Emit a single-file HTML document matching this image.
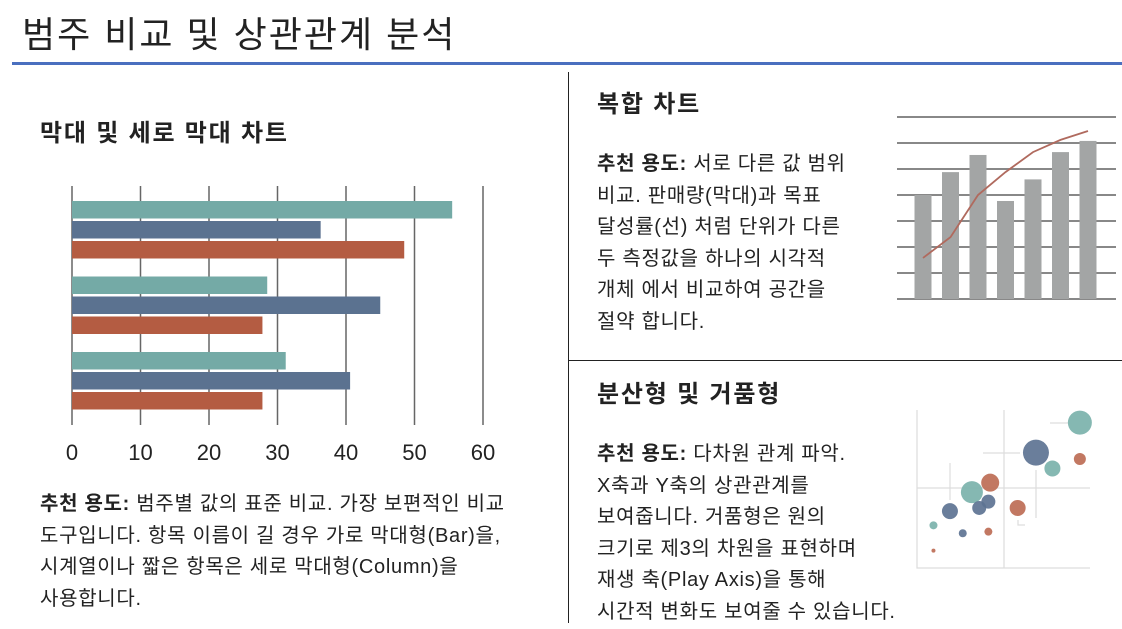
<!DOCTYPE html>
<html><head><meta charset="utf-8">
<style>
body{margin:0;width:1122px;height:623px;overflow:hidden;background:#fff;font-family:"Liberation Sans","Noto Sans CJK KR",sans-serif;color:#222;position:relative}
.abs{position:absolute;white-space:nowrap}
h1{position:absolute;left:22px;top:6px;margin:0;font-weight:normal;font-size:36px;letter-spacing:2px;color:#222}
h2{position:absolute;margin:0;font-size:24px;font-weight:bold;letter-spacing:1.8px}
.p{position:absolute;font-size:20px;letter-spacing:0.7px;line-height:31.6px;white-space:nowrap}
</style></head><body>
<h1>범주 비교 및 상관관계 분석</h1>
<div class="abs" style="left:12px;top:62px;width:1110px;height:3px;background:#4a6fbf"></div>
<div class="abs" style="left:568px;top:72px;width:1px;height:551px;background:#222"></div>
<div class="abs" style="left:568px;top:360px;width:554px;height:1px;background:#222"></div>

<h2 style="left:40px;top:113px">막대 및 세로 막대 차트</h2>
<svg id="bar" style="position:absolute;left:0;top:0" width="568" height="480"></svg>
<div class="p" style="left:40px;top:489px"><b>추천 용도:</b> 범주별 값의 표준 비교. 가장 보편적인 비교<br>도구입니다. 항목 이름이 길 경우 가로 막대형(Bar)을,<br>시계열이나 짧은 항목은 세로 막대형(Column)을<br>사용합니다.</div>

<h2 style="left:597px;top:84px">복합 차트</h2>
<div class="p" style="left:597px;top:149px"><b>추천 용도:</b> 서로 다른 값 범위<br>비교. 판매량(막대)과 목표<br>달성률(선) 처럼 단위가 다른<br>두 측정값을 하나의 시각적<br>개체 에서 비교하여 공간을<br>절약 합니다.</div>
<svg id="combo" style="position:absolute;left:880px;top:100px" width="242" height="210"></svg>

<h2 style="left:597px;top:374px">분산형 및 거품형</h2>
<div class="p" style="left:597px;top:439px"><b>추천 용도:</b> 다차원 관계 파악.<br>X축과 Y축의 상관관계를<br>보여줍니다. 거품형은 원의<br>크기로 제3의 차원을 표현하며<br>재생 축(Play Axis)을 통해<br>시간적 변화도 보여줄 수 있습니다.</div>
<svg id="bubble" style="position:absolute;left:900px;top:400px" width="222" height="175"></svg>

<script>
const NS="http://www.w3.org/2000/svg";
function mk(p,t,a){const e=document.createElementNS(NS,t);for(const k in a)e.setAttribute(k,a[k]);p.appendChild(e);return e;}
// ---- bar chart data
const barGroups=["A","B","C"];
const barSeriesTeal=[55.5,28.5,31.2];
const barSeriesBlue=[36.3,45,40.6];
const barSeriesRed=[48.5,27.8,27.8];
const barTicks=[0,10,20,30,40,50,60];
// ---- combo data
const comboCats=["1","2","3","4","5","6","7"];
const comboBars=[40,48.8,55.4,37.7,46,56.5,60.8];
const comboLine=[15.8,23.8,40,48.8,56.5,61.2,64.6];
// ---- bubble data
const bubbleX=[89,65,89,74,40,30,39,34,18,55,9,25,39,9];
const bubbleY=[92,73,69,63,54,48,42,38,36,38,27,22,23,11];
const bubbleR=[12,13,6,8,9,11,7,7,8,8,4,4,4,2];
const bubbleC=["t","b","r","t","r","t","b","b","b","r","t","b","r","r"];

(function(){
const s=document.getElementById('bar');
const x=v=>72+v*6.85;
barTicks.forEach(t=>{
 const l=mk(s,'line',{x1:x(t),x2:x(t),y1:186,y2:425,stroke:'#666','stroke-width':1.5});
 
 
 const tx=mk(s,'text',{x:x(t),y:460,'text-anchor':'middle','font-size':22,fill:'#222'});tx.textContent=t;
 
 
});
const series=[[barSeriesTeal,'#74aaa6',0],[barSeriesBlue,'#5b7290',20],[barSeriesRed,'#b45c42',40]];
barGroups.forEach((g,i)=>{
 series.forEach(([arr,c,off])=>{
  const r=mk(s,'rect',{x:x(0),y:201+i*75.5+off,width:x(arr[i])-x(0),height:17.5,fill:c});
  
  
 });
});
})();

(function(){
const s=document.getElementById('combo');
const base=199,y=v=>base-v*2.6;
for(let i=0;i<=7;i++){
 const l=mk(s,'line',{x1:17,x2:236,y1:y(i*10),y2:y(i*10),stroke:'#888','stroke-width':2});
 
 
}
const cx=i=>43+i*27.5;
comboBars.forEach((v,i)=>{
 const r=mk(s,'rect',{x:cx(i)-8.5,y:y(v),width:17,height:base-y(v),fill:'#a3a5a5'});
 
 
});
const p=mk(s,'polyline',{points:comboLine.map((v,i)=>cx(i)+','+y(v)).join(' '),fill:'none',stroke:'#b06a5e','stroke-width':1.8});


})();

(function(){
const s=document.getElementById('bubble');
const x=v=>17+v*1.83,y=v=>168-v*1.58;
[['M17,10V168H190'],['M104,10V168'],['M17,88H190'],['M50,63V100'],['M83,53H120'],['M136,70V118'],['M150,23H168'],['M118,120V125H125']].forEach(d=>{
 const l=mk(s,'path',{d:d[0],fill:'none',stroke:'#ddd','stroke-width':1.2});
 
 
});
const col={t:'#7bb2ab',b:'#5d7392',r:'#bd6d55'};
bubbleX.forEach((v,i)=>{
 const c=mk(s,'circle',{cx:x(v),cy:y(bubbleY[i]),r:bubbleR[i],fill:col[bubbleC[i]],'fill-opacity':0.92});
 
 
});
})();
</script>
</body></html>
